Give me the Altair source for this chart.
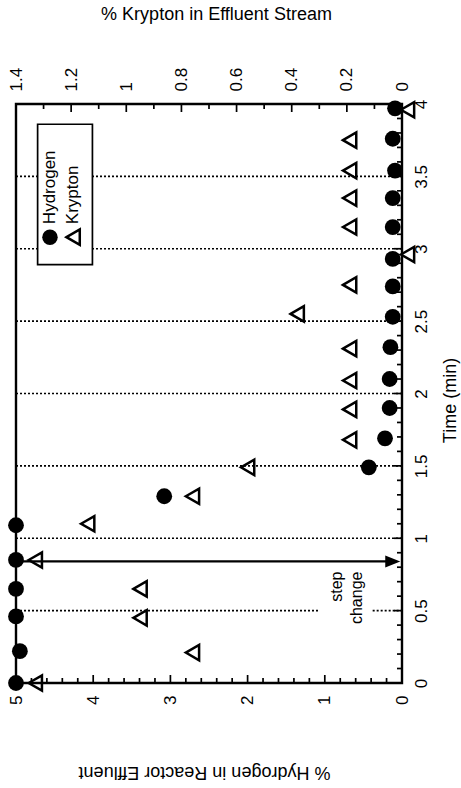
import altair as alt
import pandas as pd

FONT = "Liberation Sans"

# Hydrogen in reactor effluent (filled circles)
HYD_TIME = [0, 0.22, 0.46, 0.65, 0.85, 1.09, 1.29, 1.49, 1.69, 1.90,
            2.10, 2.32, 2.53, 2.74, 2.93, 3.15, 3.35, 3.54, 3.76, 3.97]
HYD_PCT = [5, 4.95, 5, 5, 5, 5, 3.08, 0.43, 0.22, 0.16,
           0.16, 0.15, 0.12, 0.12, 0.12, 0.12, 0.12, 0.09, 0.12, 0.09]

# Krypton in effluent stream (open triangles)
KR_TIME = [0, 0.21, 0.45, 0.65, 0.85, 1.10, 1.29, 1.49, 1.68, 1.89,
           2.09, 2.31, 2.55, 2.75, 2.96, 3.15, 3.35, 3.54, 3.75, 3.96]
KR_PCT = [1.33, 0.76, 0.95, 0.95, 1.33, 1.14, 0.76, 0.56, 0.19, 0.19,
          0.19, 0.19, 0.38, 0.19, -0.02, 0.19, 0.19, 0.19, 0.19, -0.02]

# dotted time guides; the 0.5 min guide is broken around the annotation
GUIDE_TIME = [0.5, 0.5, 1, 1.5, 2, 2.5, 3, 3.5]
GUIDE_FROM = [5, 0.38, 5, 5, 5, 5, 5, 5]
GUIDE_TO = [1.08, 0, 0, 0, 0, 0, 0, 0]

STEP_TIME = 0.84

# axis tick values
HYD_LABELS = [0, 1, 2, 3, 4, 5]
HYD_MAJOR = [1, 2, 3, 4]
HYD_MINOR = [0.2, 0.4, 0.6, 0.8, 1.2, 1.4, 1.6, 1.8, 2.2, 2.4, 2.6, 2.8,
             3.2, 3.4, 3.6, 3.8, 4.2, 4.4, 4.6, 4.8]
KR_LABELS = [0, 0.2, 0.4, 0.6, 0.8, 1.0, 1.2, 1.4]
KR_MAJOR = [0.2, 0.4, 0.6, 0.8, 1.0, 1.2]
KR_MINOR = [0.1, 0.3, 0.5, 0.7, 0.9, 1.1, 1.3]
TIME_LABELS = [0, 0.5, 1, 1.5, 2, 2.5, 3, 3.5, 4]
TIME_MAJOR = [0.5, 1, 1.5, 2, 2.5, 3, 3.5]
TIME_MINOR = [round(i * 0.1, 1) for i in range(1, 40) if i % 5]

# in-plot legend box (in data units) and entries
LEGEND_BOX = {"h": [4.72], "h2": [4.01], "t": [3.86], "t2": [2.89]}
LEGEND_NAMES = ["Hydrogen", "Krypton"]
LEGEND_H = [4.56, 4.26]
LEGEND_SYMBOL_T = 3.08
LEGEND_TEXT_T = 3.17

STEP_TEXT = ["step", "change"]
STEP_TEXT_H = [0.84, 0.58]
STEP_TEXT_T = 0.77

h_scale = alt.Scale(domain=[0, 5], reverse=True, nice=False, zero=False)
k_scale = alt.Scale(domain=[0, 1.4], reverse=True, nice=False, zero=False)
t_scale = alt.Scale(domain=[0, 4], nice=False, zero=False)

common_axis = dict(
    format="~g", ticks=False, tickSize=0, domain=False, grid=False,
    labelFont=FONT, labelFontSize=17, labelColor="black",
    labelFlush=False, labelOverlap=False,
    titleFont=FONT, titleFontSize=18, titleFontWeight="normal",
    titleColor="black", titleAlign="center",
)

h_axis = alt.Axis(
    orient="bottom", values=HYD_LABELS, labelAngle=270,
    labelAlign="right", labelBaseline="middle", labelPadding=12,
    title="% Hydrogen in Reactor Effluent", titleAngle=180,
    titleBaseline="alphabetic", titleX=188, titleY=83, **common_axis,
)
k_axis = alt.Axis(
    orient="top", values=KR_LABELS, labelAngle=270,
    labelAlign="left", labelBaseline="middle", labelPadding=13,
    title="% Krypton in Effluent Stream", titleAngle=0,
    titleBaseline="alphabetic", titleX=200, titleY=-85, **common_axis,
)
t_axis = alt.Axis(
    orient="right", values=TIME_LABELS, labelAngle=270,
    labelAlign="center", labelBaseline="top", labelPadding=11,
    title="Time (min)", titleAngle=270,
    titleBaseline="top", titleX=39, titleY=296, **common_axis,
)

HX = alt.X("h:Q", scale=h_scale, axis=h_axis)
KX = alt.X("k:Q", scale=k_scale, axis=k_axis)
TY = alt.Y("t:Q", scale=t_scale, axis=t_axis)

hyd = pd.DataFrame({"t": HYD_TIME, "h": HYD_PCT})
kr = pd.DataFrame({"t": KR_TIME, "k": KR_PCT})
guides = pd.DataFrame({"t": GUIDE_TIME, "h": GUIDE_FROM, "h2": GUIDE_TO})

guide_layer = alt.Chart(guides).mark_rule(
    color="black", strokeWidth=1.7, strokeDash=[2, 2]
).encode(x=HX, x2="h2:Q", y=TY)

arrow_line = alt.Chart(pd.DataFrame({"t": [STEP_TIME], "h": [5], "h2": [0.14]})).mark_rule(
    color="black", strokeWidth=2.2
).encode(x=HX, x2="h2:Q", y=TY)

arrow_head = alt.Chart(pd.DataFrame({"t": [STEP_TIME], "h": [0.12]})).mark_point(
    shape="M-1,-0.8L1,0L-1,0.8Z", filled=True, color="black", size=225, opacity=1
).encode(x=HX, y=TY)

step_label = alt.Chart(pd.DataFrame({"t": [STEP_TEXT_T] * 2, "h": STEP_TEXT_H, "label": STEP_TEXT})).mark_text(
    angle=270, align="right", baseline="middle", font=FONT, fontSize=16, color="black"
).encode(x=HX, y=TY, text="label:N")

legend_box = alt.Chart(pd.DataFrame(LEGEND_BOX)).mark_rect(
    fill="white", stroke="black", strokeWidth=1.7
).encode(x=HX, x2="h2:Q", y=TY, y2="t2:Q")

legend_dot = alt.Chart(pd.DataFrame({"t": [LEGEND_SYMBOL_T], "h": [LEGEND_H[0]]})).mark_point(
    shape="circle", filled=True, color="black", size=240, opacity=1
).encode(x=HX, y=TY)

legend_tri = alt.Chart(pd.DataFrame({"t": [LEGEND_SYMBOL_T], "h": [LEGEND_H[1]]})).mark_point(
    shape="triangle-left", filled=False, color="black", size=235, strokeWidth=2.5, opacity=1
).encode(x=HX, y=TY)

legend_text = alt.Chart(pd.DataFrame({"t": [LEGEND_TEXT_T] * 2, "h": LEGEND_H, "label": LEGEND_NAMES})).mark_text(
    angle=270, align="left", baseline="middle", font=FONT, fontSize=17, color="black"
).encode(x=HX, y=TY, text="label:N")

hyd_points = alt.Chart(hyd).mark_point(
    shape="circle", filled=True, color="black", size=250, opacity=1
).encode(x=HX, y=TY)

# inward-pointing tick marks along the frame
def vticks(values, length, at_t, offset_sign, xenc, field):
    df = pd.DataFrame({field: values, "t": [at_t] * len(values)})
    return alt.Chart(df).mark_tick(
        orient="vertical", size=length, thickness=1.7, color="black",
        yOffset=offset_sign * length / 2, opacity=1
    ).encode(x=xenc, y=TY)

def hticks(values, length):
    df = pd.DataFrame({"t": values, "h": [0] * len(values)})
    return alt.Chart(df).mark_tick(
        orient="horizontal", size=length, thickness=1.7, color="black",
        xOffset=-length / 2, opacity=1
    ).encode(x=HX, y=TY)

bottom_major = vticks(HYD_MAJOR, 8, 0, -1, HX, "h")
bottom_minor = vticks(HYD_MINOR, 5, 0, -1, HX, "h")
right_major = hticks(TIME_MAJOR, 8)
right_minor = hticks(TIME_MINOR, 5)
top_major = vticks(KR_MAJOR, 8, 4, 1, KX, "k")
top_minor = vticks(KR_MINOR, 5, 4, 1, KX, "k")

kr_points = alt.Chart(kr).mark_point(
    shape="triangle-left", filled=False, color="black", size=235, strokeWidth=2.5, opacity=1
).encode(x=KX, y=TY)

hydrogen_group = alt.layer(
    guide_layer, arrow_line, arrow_head, step_label,
    bottom_major, bottom_minor, right_major, right_minor,
    legend_box, legend_dot, legend_tri, legend_text, hyd_points,
)
krypton_group = alt.layer(top_major, top_minor, kr_points)

chart = alt.layer(hydrogen_group, krypton_group).resolve_scale(
    x="independent"
).properties(
    width=386, height=579,
    autosize=alt.AutoSizeParams(type="none"),
    padding={"left": 16, "top": 104, "right": 59, "bottom": 105},
).configure_view(
    stroke="black", strokeWidth=2.4
)

chart.save("out.html", embed_options={"renderer": "svg", "actions": False})
